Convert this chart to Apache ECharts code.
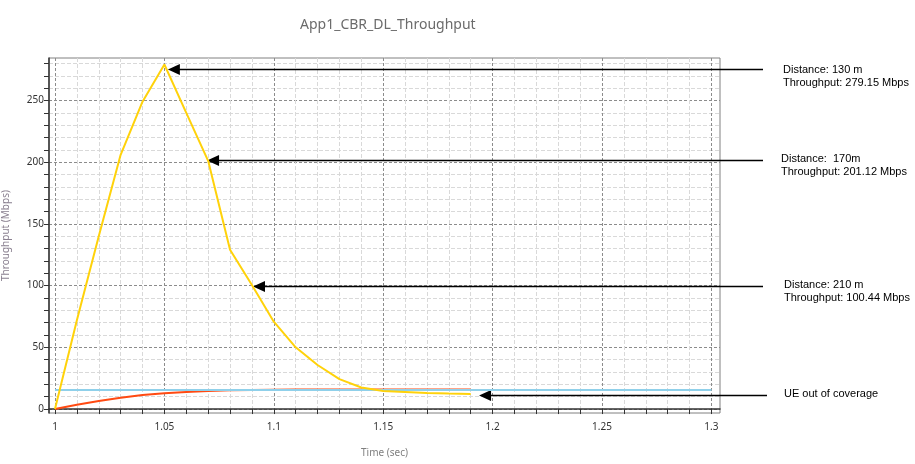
<!DOCTYPE html>
<html>
<head>
<meta charset="utf-8">
<script src="https://cdn.jsdelivr.net/npm/echarts@6/dist/echarts.min.js"></script>
<style>
  html, body { margin: 0; padding: 0; background: #fff; }
  #main { width: 915px; height: 464px; }
</style>
</head>
<body>
<div id="main"></div>
<script>
const times = [1.00, 1.01, 1.02, 1.03, 1.04, 1.05, 1.06, 1.07, 1.08, 1.09, 1.10,
               1.11, 1.12, 1.13, 1.14, 1.15, 1.16, 1.17, 1.18, 1.19, 1.20,
               1.21, 1.22, 1.23, 1.24, 1.25, 1.26, 1.27, 1.28, 1.29, 1.30];
const yellowValues = [0, 72, 140, 206, 249, 279.15, 240, 201.12, 129, 100.44, 70.8,
                      50, 35.7, 24.2, 17.5, 14.6, 13.8, 13, 12.5, 12.2, null,
                      null, null, null, null, null, null, null, null, null, null];
const orangeValues = [0, 3.5, 6.5, 9.2, 11.3, 12.8, 13.9, 14.7, 15.2, 15.5, 15.7,
                      15.8, 15.9, 15.9, 15.9, 15.9, 15.9, 15.9, 15.9, 15.9, null,
                      null, null, null, null, null, null, null, null, null, null];
const blueValues = [15.5, 15.5, 15.5, 15.5, 15.5, 15.5, 15.5, 15.5, 15.5, 15.5, 15.5,
                    15.5, 15.5, 15.5, 15.5, 15.5, 15.5, 15.5, 15.5, 15.5, 15.5,
                    15.5, 15.5, 15.5, 15.5, 15.5, 15.5, 15.5, 15.5, 15.5, 15.5];

const xMajorTicks = [1, 1.05, 1.1, 1.15, 1.2, 1.25, 1.3];
const xMinorTicks = [1.01, 1.02, 1.03, 1.04, 1.06, 1.07, 1.08, 1.09, 1.11, 1.12, 1.13, 1.14,
                     1.16, 1.17, 1.18, 1.19, 1.21, 1.22, 1.23, 1.24, 1.26, 1.27, 1.28, 1.29];
const yMajorTicks = [0, 50, 100, 150, 200, 250];
const yMinorTicks = [10, 20, 30, 40, 60, 70, 80, 90, 110, 120, 130, 140, 160, 170, 180, 190,
                     210, 220, 230, 240, 260, 270, 280];

// arrow tip (data coords) and the note it points from
const notes = [
  { tip: [1.0516, 275.5], lines: ['Distance: 130 m', 'Throughput: 279.15 Mbps'] },
  { tip: [1.0695, 201.8], lines: ['Distance:  170m', 'Throughput: 201.12 Mbps'] },
  { tip: [1.0905, 99.7], lines: ['Distance: 210 m', 'Throughput: 100.44 Mbps'] },
  { tip: [1.1938, 11.3], lines: ['UE out of coverage'] }
];

const chart = echarts.init(document.getElementById('main'));

function pairs(values) {
  return times.map((t, i) => [t, values[i]]);
}

const majorSplit = { show: true, lineStyle: { color: '#8c8c8c', type: [3, 2], width: 1 } };
const minorSplit = { show: true, lineStyle: { color: '#d9d9d9', type: [4, 2], width: 1 } };
const tickStyle = { color: '#333', width: 1 };

chart.setOption({
  animation: false,
  title: {
    text: 'App1_CBR_DL_Throughput',
    left: 295,
    top: 13,
    textStyle: { fontFamily: 'Noto Sans', fontSize: 14, fontWeight: 'normal', color: '#6b6b6b' }
  },
  grid: {
    left: 49, right: 195, top: 58, bottom: 51,
    outerBoundsMode: 'none',
    show: true, borderColor: '#808080', borderWidth: 1
  },
  xAxis: [{
    type: 'value', min: 0.99726, max: 1.30393,
    name: 'Time (sec)', nameLocation: 'middle', nameGap: 35,
    nameTextStyle: { fontFamily: 'Noto Sans', fontSize: 10, color: '#7f7f7f' },
    axisLine: { show: true, lineStyle: { color: '#333', width: 1.5 } },
    axisTick: { show: true, length: 5, lineStyle: tickStyle, customValues: xMajorTicks },
    axisLabel: { customValues: xMajorTicks, margin: 9, fontFamily: 'Noto Sans', fontSize: 10, color: '#333' },
    splitLine: majorSplit
  }, {
    type: 'value', min: 0.99726, max: 1.30393, position: 'bottom',
    axisLine: { show: false },
    axisTick: { show: true, length: 5, lineStyle: tickStyle, customValues: xMinorTicks },
    axisLabel: { show: false },
    splitLine: minorSplit
  }],
  yAxis: [{
    type: 'value', min: -3.2, max: 284.4,
    name: 'Throughput (Mbps)', nameLocation: 'middle', nameGap: 38,
    nameTextStyle: { fontFamily: 'Noto Sans', fontSize: 10, color: '#8a8090' },
    axisLine: { show: true, lineStyle: { color: '#333', width: 1.5 } },
    axisTick: { show: true, length: 5, lineStyle: tickStyle, customValues: yMajorTicks },
    axisLabel: { customValues: yMajorTicks, margin: 5, fontFamily: 'Noto Sans', fontSize: 10, color: '#333' },
    splitLine: majorSplit
  }, {
    type: 'value', min: -3.2, max: 284.4, position: 'left',
    axisLine: { show: false },
    axisTick: { show: true, length: 5, lineStyle: tickStyle, customValues: yMinorTicks },
    axisLabel: { show: false },
    splitLine: minorSplit
  }],
  series: [{
    type: 'line', data: pairs(orangeValues), showSymbol: false, z: 3,
    lineStyle: { color: '#ff4a12', width: 2 }
  }, {
    type: 'line', data: pairs(blueValues), showSymbol: false, z: 4,
    lineStyle: { color: '#8fd0ea', width: 2 }
  }, {
    type: 'line', data: pairs(yellowValues), showSymbol: false, z: 5,
    lineStyle: { color: '#ffd20a', width: 2 }
  }]
});

const lineEnds = [763, 763, 763, 767];
const textLefts = [783, 781, 784, 784];
const graphics = [];
notes.forEach((n, i) => {
  const p = chart.convertToPixel({ xAxisIndex: 0, yAxisIndex: 0 }, n.tip);
  const x = p[0], y = Math.round(p[1]) + 0.5;
  graphics.push({
    type: 'line', silent: true,
    shape: { x1: x + 11, y1: y, x2: lineEnds[i], y2: y },
    style: { stroke: '#000', lineWidth: 1.5 }
  });
  graphics.push({
    type: 'polygon', silent: true,
    shape: { points: [[x, y], [x + 12, y - 5.5], [x + 12, y + 5.5]] },
    style: { fill: '#000' }
  });
  graphics.push({
    type: 'text', silent: true,
    x: textLefts[i], y: y - 8 + (i === 0 ? 2 : 0),
    style: {
      text: n.lines.join('\n'), fill: '#000',
      font: '11px "Liberation Sans", Arial, sans-serif', lineHeight: 13
    }
  });
});
chart.setOption({ graphic: graphics });

window.addEventListener('resize', () => chart.resize());
</script>
</body>
</html>
